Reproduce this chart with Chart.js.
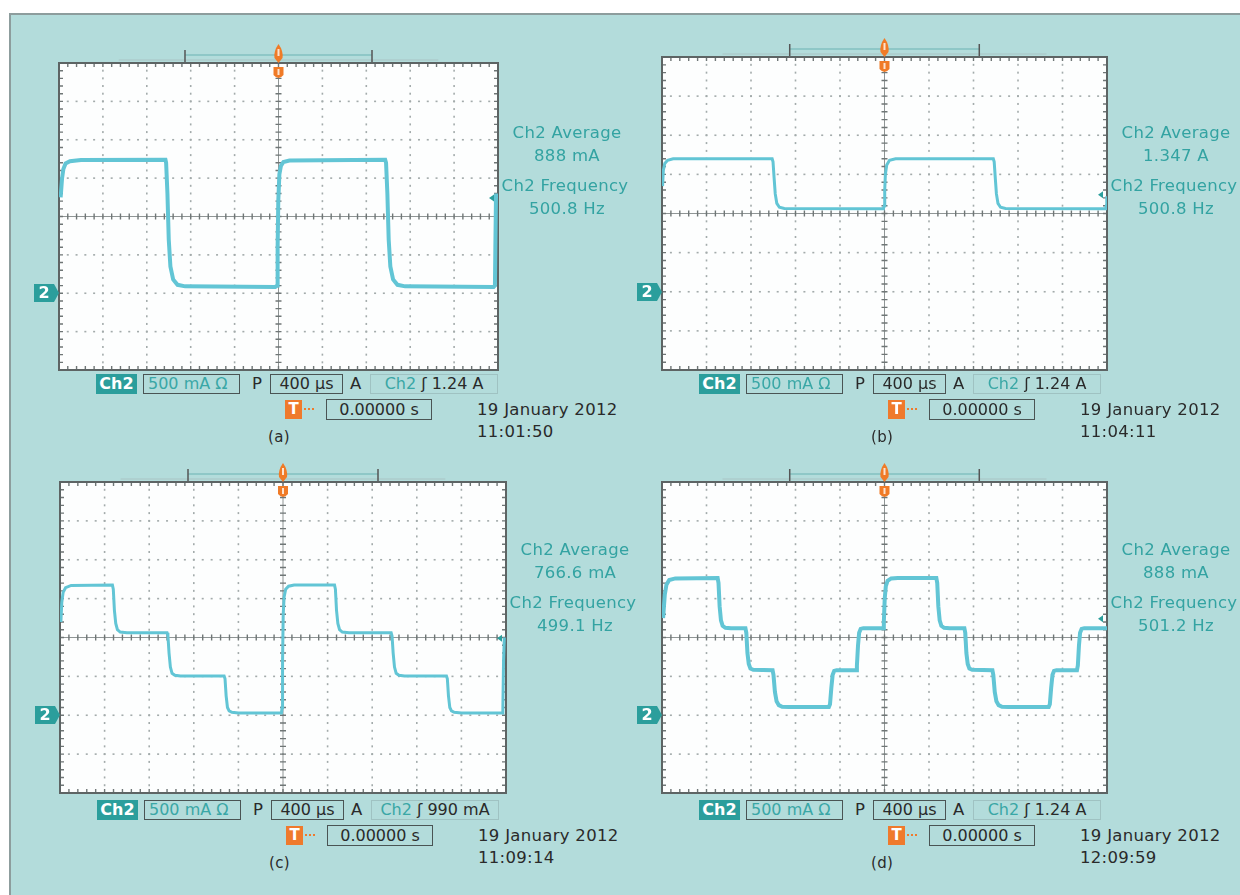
<!DOCTYPE html>
<html>
<head>
<meta charset="utf-8">
<title>Ch2 current waveforms</title>
<script src="https://cdn.jsdelivr.net/npm/chart.js"></script>
<style>
  body { margin:0; background:#fff; font-family:"DejaVu Sans", "Liberation Sans", Arial, sans-serif; width:1240px; height:895px; overflow:hidden; position:relative; }
  #frame { position:absolute; left:9px; top:13px; width:1240px; height:890px; background:#b3dcdb; border-top:2px solid #8d9d9d; border-left:2px solid #8d9d9d; }
  canvas.scope { position:absolute; }
  .t { position:absolute; white-space:nowrap; line-height:1; }
  .meas { color:#33a3a2; font-size:16.5px; letter-spacing:0.3px; text-align:center; width:180px; }
  .box { position:absolute; height:20px; box-sizing:border-box; border:1.5px solid #4a5454; font-size:16px; line-height:18px; text-align:center; color:#2a2a2a; white-space:nowrap; }
  .ch { background:#2b9e9c; color:#fff; border-color:#2b9e9c; font-weight:bold; }
  .teal { color:#3aa7a6; }
  .light { border-color:#9fc2c2; }
  .dark { color:#2a2a2a; font-size:16.5px; letter-spacing:0.3px; }
  .tmark { position:absolute; width:17px; height:19px; background:#ef7a2c; color:#fff; font-weight:bold; font-size:15px; line-height:19px; text-align:center; }
  .gnd { position:absolute; width:20px; height:18px; background:#2b9e9c; color:#fff; font-weight:bold; font-size:16px; line-height:18px; text-align:center; }
  .gnd:after { content:""; position:absolute; left:20px; top:0; border-top:9px solid transparent; border-bottom:9px solid transparent; border-left:5px solid #2b9e9c; }
</style>
</head>
<body>
<div id="frame"></div>

<script>
// Ch2 current traces, time in microseconds (400 us/div), current in amps (500 mA/div)
const traceA = [
  [-1985, 1.25], [-1972, 1.50], [-1960, 1.62], [-1940, 1.69], [-1900, 1.72], [-1800, 1.735],
  [-1030, 1.74], [-1024, 1.70], [-1012, 1.30], [-1000, 0.70], [-985, 0.35], [-960, 0.18],
  [-920, 0.11], [-850, 0.09], [-30, 0.08], [-12, 0.10], [-8, 0.60], [-2, 1.20], [8, 1.55],
  [22, 1.66], [45, 1.71], [100, 1.73], [972, 1.74], [980, 1.70], [992, 1.30], [1004, 0.70],
  [1019, 0.35], [1044, 0.18], [1084, 0.11], [1154, 0.09], [1960, 0.08], [1972, 0.10],
  [1976, 0.60], [1982, 1.30]
];
const traceB = [
  [-1995, 1.35], [-1988, 1.55], [-1975, 1.64], [-1950, 1.68], [-1900, 1.70], [-1010, 1.70],
  [-1002, 1.66], [-992, 1.45], [-982, 1.25], [-968, 1.13], [-945, 1.08], [-900, 1.065],
  [-10, 1.06], [-2, 1.10], [2, 1.30], [8, 1.50], [20, 1.62], [45, 1.68], [100, 1.70],
  [978, 1.70], [986, 1.66], [996, 1.45], [1006, 1.25], [1020, 1.13], [1043, 1.08],
  [1088, 1.065], [1988, 1.06], [1994, 1.10], [1998, 1.22]
];
const traceC = [
  [-1992, 1.20], [-1984, 1.45], [-1972, 1.58], [-1950, 1.64], [-1900, 1.67], [-1530, 1.675],
  [-1522, 1.62], [-1512, 1.35], [-1500, 1.18], [-1485, 1.10], [-1460, 1.07], [-1400, 1.06],
  [-1040, 1.06], [-1032, 1.02], [-1022, 0.80], [-1010, 0.62], [-995, 0.54], [-970, 0.515],
  [-920, 0.505], [-528, 0.505], [-520, 0.47], [-510, 0.25], [-498, 0.10], [-483, 0.055],
  [-458, 0.038], [-400, 0.03], [-14, 0.03], [-8, 0.10], [-4, 0.70], [2, 1.30], [10, 1.52],
  [24, 1.62], [50, 1.66], [100, 1.675], [462, 1.675], [470, 1.62], [480, 1.35], [492, 1.18],
  [507, 1.10], [532, 1.07], [592, 1.06], [970, 1.06], [978, 1.02], [988, 0.80], [1000, 0.62],
  [1015, 0.54], [1040, 0.515], [1090, 0.505], [1466, 0.505], [1474, 0.47], [1484, 0.25],
  [1496, 0.10], [1511, 0.055], [1536, 0.038], [1600, 0.03], [1966, 0.03], [1972, 0.10],
  [1978, 0.70], [1985, 1.00]
];
const traceD = [
  [-1990, 1.25], [-1975, 1.55], [-1960, 1.68], [-1935, 1.74], [-1880, 1.76], [-1500, 1.765],
  [-1492, 1.70], [-1482, 1.40], [-1470, 1.22], [-1455, 1.15], [-1430, 1.125], [-1380, 1.12],
  [-1250, 1.12], [-1242, 1.06], [-1232, 0.80], [-1220, 0.66], [-1205, 0.60], [-1180, 0.585],
  [-1006, 0.58], [-998, 0.52], [-985, 0.30], [-970, 0.18], [-950, 0.13], [-920, 0.11],
  [-860, 0.105], [-500, 0.105], [-490, 0.14], [-478, 0.35], [-466, 0.52], [-452, 0.57],
  [-430, 0.58], [-256, 0.58], [-248, 0.64], [-238, 0.90], [-228, 1.06], [-214, 1.11],
  [-190, 1.12], [-12, 1.12], [-6, 1.20], [2, 1.50], [12, 1.66], [28, 1.73], [60, 1.76],
  [120, 1.765], [466, 1.765], [474, 1.70], [484, 1.40], [496, 1.22], [511, 1.15], [536, 1.125],
  [586, 1.12], [718, 1.12], [726, 1.06], [736, 0.80], [748, 0.66], [763, 0.60], [788, 0.585],
  [970, 0.58], [978, 0.52], [991, 0.30], [1006, 0.18], [1026, 0.13], [1056, 0.11], [1116, 0.105],
  [1476, 0.105], [1486, 0.14], [1498, 0.35], [1510, 0.52], [1524, 0.57], [1546, 0.58],
  [1730, 0.58], [1738, 0.64], [1748, 0.90], [1758, 1.06], [1772, 1.11], [1796, 1.12], [2000, 1.12]
];

const traces = [traceA, traceB, traceC, traceD];
const panelLabels = ['(a)', '(b)', '(c)', '(d)'];
const averages = ['888 mA', '1.347 A', '766.6 mA', '888 mA'];
const frequencies = ['500.8 Hz', '500.8 Hz', '499.1 Hz', '501.2 Hz'];
const triggerLevels = [1.24, 1.24, 0.99, 1.24];
const triggerText = ['1.24 A', '1.24 A', '990 mA', '1.24 A'];
const clockTimes = ['11:01:50', '11:04:11', '11:09:14', '12:09:59'];
const dateText = '19 January 2012';
const xRange = [-2000, 2000], xDiv = 400;
const yRange = [-1, 3], yDiv = 0.5;

// where each graticule sits on the page
const boxes = [
  { l: 59, t: 63, w: 439, h: 307, textY: 134 },
  { l: 662, t: 57, w: 445, h: 313, textY: 134 },
  { l: 60, t: 482, w: 446, h: 311, textY: 551 },
  { l: 662, t: 482, w: 445, h: 311, textY: 551 }
];
const PAD = { left: 32, top: 28, right: 6, bottom: 4 };

// oscilloscope graticule, markers
const scopeDecor = {
  id: 'scopeDecor',
  beforeDatasetsDraw(chart) {
    const { ctx, chartArea: a, scales: { x, y } } = chart;
    const xm = xDiv / 5, ym = yDiv / 5;
    const nx = (xRange[1] - xRange[0]) / xm, ny = Math.round((yRange[1] - yRange[0]) / ym);
    ctx.save();
    ctx.fillStyle = '#fdfefe';
    ctx.fillRect(a.left, a.top, a.right - a.left, a.bottom - a.top);

    // dotted division lines
    ctx.fillStyle = '#a3abab';
    for (let i = 1; i < 10; i++) {
      if (i === 5) continue;
      const px = x.getPixelForValue(xRange[0] + i * xDiv);
      for (let j = 1; j < ny; j++) {
        const py = y.getPixelForValue(yRange[0] + j * ym);
        ctx.fillRect(px - 0.8, py - 1, 1.6, 2);
      }
    }
    for (let j = 1; j < 8; j++) {
      if (j === 4) continue;
      const py = y.getPixelForValue(yRange[0] + j * yDiv);
      for (let i = 1; i < nx; i++) {
        const px = x.getPixelForValue(xRange[0] + i * xm);
        ctx.fillRect(px - 1, py - 0.8, 2, 1.6);
      }
    }

    // centre cross with minor ticks
    const cx = x.getPixelForValue((xRange[0] + xRange[1]) / 2);
    const cy = y.getPixelForValue((yRange[0] + yRange[1]) / 2);
    ctx.strokeStyle = '#8f9595';
    ctx.lineWidth = 1;
    ctx.beginPath();
    ctx.moveTo(a.left, cy); ctx.lineTo(a.right, cy);
    ctx.moveTo(cx, a.top); ctx.lineTo(cx, a.bottom);
    ctx.stroke();
    ctx.strokeStyle = '#6f7676';
    ctx.lineWidth = 1.4;
    ctx.beginPath();
    for (let i = 1; i < nx; i++) {
      const px = x.getPixelForValue(xRange[0] + i * xm);
      ctx.moveTo(px, cy - 3); ctx.lineTo(px, cy + 3);
      ctx.moveTo(px, a.top); ctx.lineTo(px, a.top + 4);
      ctx.moveTo(px, a.bottom); ctx.lineTo(px, a.bottom - 4);
    }
    for (let j = 1; j < ny; j++) {
      const py = y.getPixelForValue(yRange[0] + j * ym);
      ctx.moveTo(cx - 3, py); ctx.lineTo(cx + 3, py);
      ctx.moveTo(a.left, py); ctx.lineTo(a.left + 4, py);
      ctx.moveTo(a.right, py); ctx.lineTo(a.right - 4, py);
    }
    ctx.stroke();

    // frame
    ctx.strokeStyle = '#5d6464';
    ctx.lineWidth = 2;
    ctx.strokeRect(a.left, a.top, a.right - a.left, a.bottom - a.top);
    ctx.restore();
  },
  afterDatasetsDraw(chart, args, opts) {
    const { ctx, chartArea: a, scales: { x, y } } = chart;
    const cx = x.getPixelForValue(0);
    const w = a.right - a.left;
    ctx.save();
    // record view bar and bracket
    ctx.strokeStyle = '#a9c4c4';
    ctx.lineWidth = 1;
    ctx.beginPath();
    ctx.moveTo(cx - 0.364 * w, a.top - 3); ctx.lineTo(cx + 0.364 * w, a.top - 3);
    ctx.stroke();
    const bl = cx - 0.213 * w, br = cx + 0.213 * w;
    ctx.strokeStyle = '#6bb3b3';
    ctx.beginPath();
    ctx.moveTo(bl, a.top - 8); ctx.lineTo(br, a.top - 8);
    ctx.stroke();
    ctx.strokeStyle = '#555';
    ctx.lineWidth = 1.5;
    ctx.beginPath();
    ctx.moveTo(bl, a.top - 13); ctx.lineTo(bl, a.top - 1);
    ctx.moveTo(br, a.top - 13); ctx.lineTo(br, a.top - 1);
    ctx.stroke();

    // orange trigger position marker
    ctx.fillStyle = '#f07b27';
    ctx.beginPath();
    ctx.moveTo(cx, a.top - 19);
    ctx.quadraticCurveTo(cx + 5, a.top - 12, cx + 4, a.top - 5);
    ctx.lineTo(cx, a.top);
    ctx.lineTo(cx - 4, a.top - 5);
    ctx.quadraticCurveTo(cx - 5, a.top - 12, cx, a.top - 19);
    ctx.fill();
    ctx.beginPath();
    ctx.moveTo(cx - 5, a.top + 4);
    ctx.lineTo(cx + 5, a.top + 4);
    ctx.lineTo(cx + 5, a.top + 12);
    ctx.quadraticCurveTo(cx, a.top + 18, cx - 5, a.top + 12);
    ctx.closePath();
    ctx.fill();
    ctx.fillStyle = '#fde3cf';
    ctx.fillRect(cx - 1, a.top + 6, 2, 6);
    ctx.fillRect(cx - 1, a.top - 14, 2, 7);

    // trigger level arrow on the right edge
    const ty = y.getPixelForValue(opts.trigger);
    ctx.fillStyle = '#2b9e9c';
    ctx.beginPath();
    ctx.moveTo(a.right - 9, ty);
    ctx.lineTo(a.right - 4, ty - 3.5);
    ctx.lineTo(a.right - 4, ty + 3.5);
    ctx.closePath();
    ctx.fill();
    ctx.restore();
  }
};

function addEl(cls, text, x, y, extra) {
  const d = document.createElement('div');
  d.className = cls;
  if (text !== null) d.innerHTML = text;
  d.style.left = x + 'px';
  d.style.top = y + 'px';
  if (extra) Object.assign(d.style, extra);
  document.body.appendChild(d);
  return d;
}

boxes.forEach(function (b, k) {
  const canvas = document.createElement('canvas');
  canvas.className = 'scope';
  canvas.width = b.w + PAD.left + PAD.right;
  canvas.height = b.h + PAD.top + PAD.bottom;
  canvas.style.left = (b.l - PAD.left) + 'px';
  canvas.style.top = (b.t - PAD.top) + 'px';
  document.body.appendChild(canvas);

  const chart = new Chart(canvas.getContext('2d'), {
    type: 'line',
    data: {
      datasets: [{
        label: 'Ch2',
        data: traces[k].map(p => ({ x: p[0], y: p[1] })),
        borderColor: '#62c5d5',
        borderWidth: k === 1 || k === 2 ? 3 : 4,
        pointRadius: 0,
        tension: 0,
        fill: false
      }]
    },
    options: {
      responsive: false,
      animation: false,
      devicePixelRatio: 1,
      layout: { padding: PAD },
      plugins: {
        legend: { display: false },
        tooltip: { enabled: false },
        scopeDecor: { trigger: triggerLevels[k] }
      },
      scales: {
        x: { type: 'linear', min: xRange[0], max: xRange[1], display: false },
        y: { type: 'linear', min: yRange[0], max: yRange[1], display: false }
      }
    },
    plugins: [scopeDecor]
  });

  // ground reference marker "2"
  const gy = b.t - PAD.top + chart.scales.y.getPixelForValue(0);
  addEl('gnd', '2', b.l - 25, Math.round(gy - 9));

  // measurement readouts
  const mx = b.l + b.w - 21;
  addEl('t meas', 'Ch2 Average', mx, b.textY - 9);
  addEl('t meas', averages[k], mx, b.textY + 14);
  addEl('t meas', 'Ch2 Frequency', mx - 2, b.textY + 44);
  addEl('t meas', frequencies[k], mx, b.textY + 67);

  // status bar
  const dx = b.l - 59;
  const r1 = b.t + b.h + 4 + (k < 2 ? 0 : 3);
  addEl('box ch', 'Ch2', dx + 96, r1, { width: '41px' });
  addEl('box teal', '500 mA &Omega;', dx + 143, r1, { width: '97px', textAlign: 'left', paddingLeft: '4px' });
  addEl('t dark', 'P', dx + 252, r1 + 2);
  addEl('box', '400 &micro;s', dx + 270, r1, { width: '73px' });
  addEl('t dark', 'A', dx + 350, r1 + 2);
  addEl('box light', '<span class="teal">Ch2</span> &#643; ' + triggerText[k], dx + 370, r1, { width: '128px' });

  const r2 = r1 + 26;
  addEl('tmark', 'T', dx + 285, r2);
  addEl('t', null, dx + 304, r2 + 8, { width: '10px', borderTop: '2px dotted #ef7a2c' });
  addEl('box', '0.00000 s', dx + 326, r2 - 1, { width: '106px', height: '21px', lineHeight: '19px' });
  addEl('t dark', dateText, dx + 477, r2 + 2);
  addEl('t dark', clockTimes[k], dx + 477, r2 + 24);
  addEl('t dark', panelLabels[k], dx + 268, r2 + 30, { fontSize: '15px' });
});
</script>
</body>
</html>
